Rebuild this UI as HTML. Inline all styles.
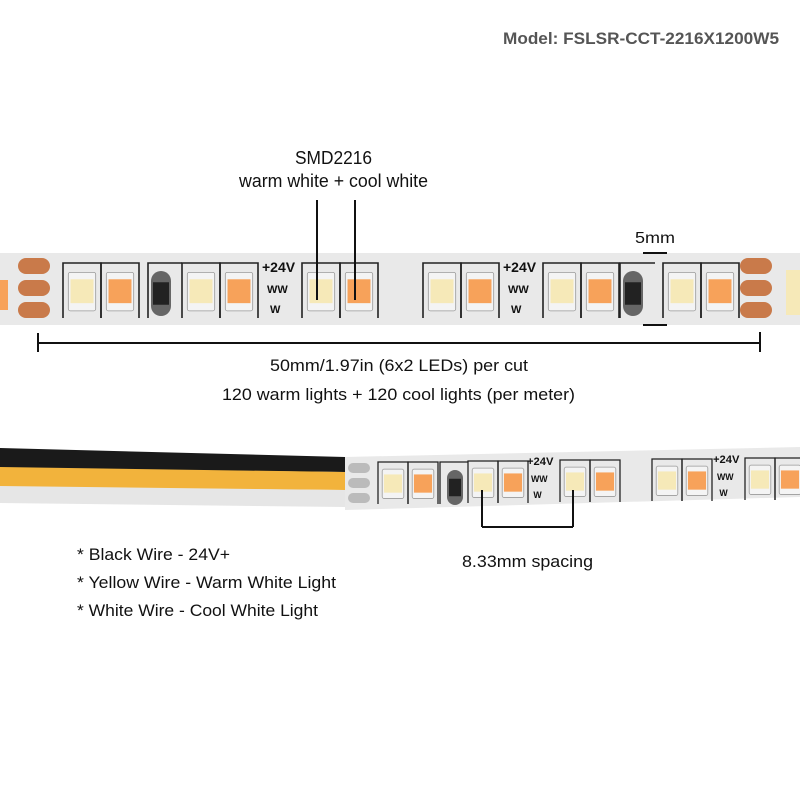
<!DOCTYPE html>
<html><head><meta charset="utf-8"><style>
html,body{margin:0;padding:0;background:#fff;width:800px;height:800px;overflow:hidden}
svg text{font-family:"Liberation Sans",sans-serif;fill:#111}
</style></head><body>
<svg id="s" width="800" height="800" viewBox="0 0 800 800" xmlns="http://www.w3.org/2000/svg">
<text x="503" y="44" font-size="17" font-weight="bold" style="fill:#555" textLength="276" lengthAdjust="spacingAndGlyphs">Model: FSLSR-CCT-2216X1200W5</text>
<text x="295" y="164" font-size="18" textLength="77" lengthAdjust="spacingAndGlyphs">SMD2216</text>
<text x="239" y="187" font-size="18" textLength="189" lengthAdjust="spacingAndGlyphs">warm white + cool white</text>
<text x="635" y="243" font-size="16" textLength="40" lengthAdjust="spacingAndGlyphs">5mm</text>
<text x="270" y="371" font-size="17" textLength="258" lengthAdjust="spacingAndGlyphs">50mm/1.97in (6x2 LEDs) per cut</text>
<text x="222" y="400" font-size="17" textLength="353" lengthAdjust="spacingAndGlyphs">120 warm lights + 120 cool lights (per meter)</text>
<text x="462" y="567" font-size="17" textLength="131" lengthAdjust="spacingAndGlyphs">8.33mm spacing</text>
<text x="77" y="560" font-size="17" textLength="153" lengthAdjust="spacingAndGlyphs">* Black Wire - 24V+</text>
<text x="77" y="588" font-size="17" textLength="259" lengthAdjust="spacingAndGlyphs">* Yellow Wire - Warm White Light</text>
<text x="77" y="616" font-size="17" textLength="241" lengthAdjust="spacingAndGlyphs">* White Wire - Cool White Light</text>
<g id="g"></g>
</svg>
<script>
var g=document.getElementById('g'),h='';
function R(x,y,w,hh,f,ex){h+='<rect x="'+x+'" y="'+y+'" width="'+w+'" height="'+hh+'" fill="'+f+'" '+(ex||'')+'/>';}
function L(x1,y1,x2,y2,w,c){h+='<line x1="'+x1+'" y1="'+y1+'" x2="'+x2+'" y2="'+y2+'" stroke="'+(c||'#111')+'" stroke-width="'+(w||2)+'"/>';}
function T(x,y,s,t,fs){h+='<text x="'+x+'" y="'+y+'" font-size="'+fs+'" font-weight="bold">'+t+'</text>';}
// wires
h+='<polygon points="0,448 345,457 345,472 0,468" fill="#1a1a1a"/>';
h+='<polygon points="0,467 345,472 345,490 0,487" fill="#f2b33c"/>';
h+='<polygon points="0,486 345,490 345,507 0,503" fill="#e6e6e6"/>';
// strips
R(0,253,800,72,'#e9e9e9');
h+='<polygon points="345,457 800,447 800,497 345,510" fill="#e9e9e9"/>';
function pair(x,y,bw,bh,s){
 for(var i=0;i<2;i++){var bx=x+i*bw;
  h+='<path d="M'+bx+' '+(y+bh)+' V'+y+' H'+(bx+bw)+' V'+(y+bh)+'" fill="none" stroke="#222" stroke-width="'+(1.6*s)+'"/>';
  var lw=bw*0.72,lx=bx+(bw-lw)/2,ly=y+bh*0.17,lh=bh*0.7;
  R(lx,ly,lw,lh,'#f4f4f4','rx="2" stroke="#999" stroke-width="0.8"');
  R(lx+lw*0.08,ly+lh*0.18,lw*0.84,lh*0.62,i==0?'#f6e9b8':'#f7a25a');
 }
}
function res(x,y,w,hh){R(x,y,w,hh,'#666','rx="'+w/2+'"');R(x+2,y+hh*0.25,w-4,hh*0.5,'#222');}
function pads(x,y,w,gap,n){for(var i=0;i<3;i++){R(x,y+i*gap,w,w*0.5,'#c97a4a','rx="'+w*0.25+'"');}}
function marks(x,y,s){T(x,y+9*s,s,'+24V',14*s);T(x+5*s,y+30*s,s,'WW',11*s);T(x+8*s,y+50*s,s,'W',11*s);}
// top strip
R(0,280,8,30,'#f7a25a');
pads(18,258,32,22);pads(740,258,32,22);
pair(63,263,38,55,1);pair(182,263,38,55,1);pair(302,263,38,55,1);
pair(423,263,38,55,1);pair(543,263,38,55,1);pair(663,263,38,55,1);
R(786,270,14,45,'#f6e9b8');
h+='<path d="M148 318 V263 H182 M620 318 V263 H655" fill="none" stroke="#222" stroke-width="1.6"/>';
res(151,271,20,45);res(623,271,20,45);
marks(262,263,1);marks(503,263,1);
// bottom strip
for(var i=0;i<3;i++)R(348,463+i*15,22,10,'#bbb','rx="5"');
pair(378,462,30,42,0.8);pair(468,461,30,42,0.8);pair(560,460,30,42,0.8);
pair(652,459,30,42,0.8);pair(745,458,30,42,0.8);
h+='<path d="M440 504 V462 H468" fill="none" stroke="#222" stroke-width="1.3"/>';
res(447,470,16,35);
marks(527,458,0.8);marks(713,456,0.8);
// dimension lines
L(317,200,317,300);L(355,200,355,300);
L(38,343,760,343);L(38,333,38,352);L(760,332,760,352);
L(643,253,667,253);L(643,325,667,325);
L(482,490,482,527);L(573,490,573,527);L(482,527,573,527);
g.innerHTML=h;
</script>
</body></html>
